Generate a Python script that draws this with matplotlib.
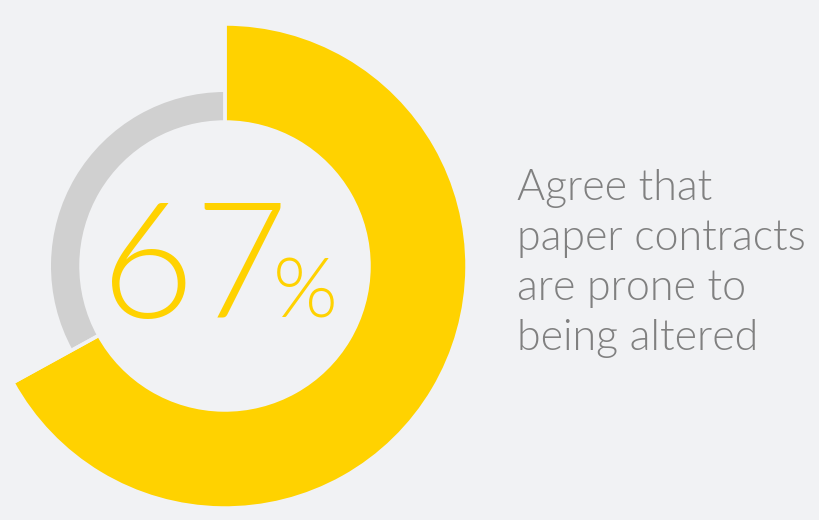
import matplotlib
matplotlib.use("Agg")
import matplotlib.pyplot as plt

# Data
labels = ["Agree", "Other"]
values = [67, 33]
pct_label = "67"
caption_lines = ["Agree that", "paper contracts", "are prone to", "being altered"]

BG = "#F1F2F4"
YELLOW = "#FFD200"
GRAY = "#D0D0D0"
TEXT = "#808080"

fig = plt.figure(figsize=(8.2, 5.2), dpi=100, facecolor=BG)
ax = fig.add_axes([0, 0, 1, 1])
ax.set_facecolor(BG)

cx, cy = 225, 520 - 266

# Outer yellow arc (value share)
ax.pie(values, colors=[YELLOW, "none"], radius=241, center=(cx, cy),
       startangle=90, counterclock=False,
       wedgeprops=dict(width=96, edgecolor="none", linewidth=0))
# Inner gray arc (remainder)
ax.pie(values, colors=["none", GRAY], radius=174, center=(cx, cy),
       startangle=90, counterclock=False,
       wedgeprops=dict(width=29, edgecolor="none", linewidth=0))
# thin separator lines drawn as background-coloured pie edges
ax.pie(values, colors=["none", "none"], radius=242, center=(cx, cy),
       startangle=90, counterclock=False,
       wedgeprops=dict(width=98, edgecolor=BG, linewidth=2.5, fill=False))

ax.set_xlim(0, 820)
ax.set_ylim(0, 520)
ax.set_aspect("equal")
ax.axis("off")

ax.text(101, 520 - 318, pct_label, fontsize=116, family="Lato", fontweight=300,
        color=YELLOW, ha="left", va="baseline")
ax.text(273, 520 - 318, "%", fontsize=60, family="Lato", fontweight=300,
        color=YELLOW, ha="left", va="baseline")

for i, line in enumerate(caption_lines):
    ax.text(517, 520 - (200 + i * 50), line, fontsize=31, family="Lato",
            fontweight=300, color=TEXT, ha="left", va="baseline")

fig.savefig("out.png", dpi=100, facecolor=BG)
